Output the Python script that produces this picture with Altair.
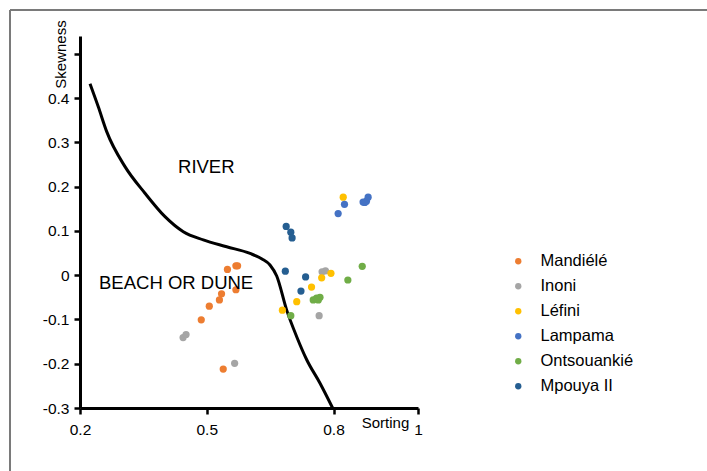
import altair as alt
import pandas as pd

# ---- data ----
sites = ["Mandiélé", "Inoni", "Léfini", "Lampama", "Ontsouankié", "Mpouya II"]
colors = ["#ED7D31", "#A5A5A5", "#FFC000", "#4472C4", "#70AD47", "#255E91"]

mandiele_x = [0.549, 0.569, 0.573, 0.569, 0.535, 0.530, 0.506, 0.487, 0.539]
mandiele_y = [0.013, 0.021, 0.021, -0.033, -0.042, -0.056, -0.070, -0.101, -0.212]

inoni_x = [0.444, 0.451, 0.566, 0.766, 0.773, 0.781]
inoni_y = [-0.141, -0.134, -0.199, -0.0915, 0.0076, 0.0098]

lefini_x = [0.823, 0.794, 0.772, 0.748, 0.713, 0.679]
lefini_y = [0.176, 0.004, -0.006, -0.027, -0.060, -0.079]

lampama_x = [0.826, 0.811, 0.870, 0.878, 0.882, 0.874]
lampama_y = [0.160, 0.139, 0.165, 0.167, 0.176, 0.164]

ontsou_x = [0.868, 0.834, 0.752, 0.760, 0.768, 0.764, 0.699]
ontsou_y = [0.020, -0.011, -0.056, -0.052, -0.050, -0.056, -0.0915]

mpouya_x = [0.688, 0.699, 0.702, 0.686, 0.734, 0.723]
mpouya_y = [0.110, 0.097, 0.084, 0.009, -0.004, -0.036]

curve_x = [0.2237, 0.2433, 0.2632, 0.3065, 0.3538, 0.4012, 0.4445, 0.4918, 0.5472,
           0.6024, 0.6308, 0.6497, 0.6656, 0.6892, 0.7129, 0.7366, 0.7681, 0.798]
curve_y = [0.432, 0.380, 0.324, 0.245, 0.185, 0.132, 0.098, 0.0795, 0.064,
           0.049, 0.0366, 0.023, -0.002, -0.079, -0.139, -0.191, -0.244, -0.3]

zone_labels = ["RIVER", "BEACH OR DUNE"]
zone_x = [0.432, 0.245]
zone_y = [0.231, -0.031]

x_ticks = [0.2, 0.5, 0.8, 1]
y_ticks = [-0.3, -0.2, -0.1, 0, 0.1, 0.2, 0.3, 0.4, 0.5]

# ---- tables ----
series = [
    (sites[0], mandiele_x, mandiele_y),
    (sites[1], inoni_x, inoni_y),
    (sites[2], lefini_x, lefini_y),
    (sites[3], lampama_x, lampama_y),
    (sites[4], ontsou_x, ontsou_y),
    (sites[5], mpouya_x, mpouya_y),
]
rows = []
for name, xs, ys in series:
    for xv, yv in zip(xs, ys):
        rows.append({"site": name, "sorting": xv, "skewness": yv})
pts = pd.DataFrame(rows)
curve = pd.DataFrame({"sorting": curve_x, "skewness": curve_y, "i": range(len(curve_x))})
zones = pd.DataFrame({"label": zone_labels, "sorting": zone_x, "skewness": zone_y})

FONT = "Liberation Sans"
W, H = 338, 372
LEFT, TOP = 80, 36

xscale = alt.Scale(domain=[0.2, 1.0], nice=False, zero=False)
yscale = alt.Scale(domain=[-0.3, 0.54], nice=False, zero=False)

xaxis = alt.Axis(values=x_ticks, labelExpr="'' + datum.value", title="Sorting",
                 titleX=305, titleY=19, titleAlign="center", titleBaseline="alphabetic",
                 titleFontSize=15, titleFontWeight="normal", labelPadding=8, grid=False,
                 labelFlush=False)
yaxis = alt.Axis(values=y_ticks, labelExpr="datum.value > 0.45 ? '' : '' + datum.value",
                 title="Skewness", titleX=-15, titleY=18, titleAngle=270,
                 titleAlign="center", titleBaseline="alphabetic",
                 titleFontSize=15, titleFontWeight="normal", labelPadding=5, grid=False,
                 labelFlush=False)

line = alt.Chart(curve).mark_line(color="black", strokeWidth=3, interpolate="monotone").encode(
    x=alt.X("sorting:Q", scale=xscale, axis=xaxis),
    y=alt.Y("skewness:Q", scale=yscale, axis=yaxis),
    order="i:Q",
)

points = alt.Chart(pts).mark_circle(size=52, opacity=1).encode(
    x=alt.X("sorting:Q", scale=xscale),
    y=alt.Y("skewness:Q", scale=yscale),
    color=alt.Color("site:N", scale=alt.Scale(domain=sites, range=colors),
                    legend=alt.Legend(title=None, orient="none", legendX=430, legendY=217,
                                      symbolType="circle", symbolSize=40,
                                      labelFontSize=16.5, labelFont=FONT, labelColor="#000",
                                      labelOffset=14, rowPadding=8, symbolStrokeWidth=0)),
)

text = alt.Chart(zones).mark_text(align="left", baseline="alphabetic", fontSize=18.5,
                                  font=FONT, color="#000").encode(
    x=alt.X("sorting:Q", scale=xscale),
    y=alt.Y("skewness:Q", scale=yscale),
    text="label:N",
)

frame_top = alt.Chart(pts).mark_rule(color="#7a7a7a", strokeWidth=2).encode(
    x=alt.value(-70), x2=alt.value(707 - LEFT), y=alt.value(-26))
frame_left = alt.Chart(pts).mark_rule(color="#7a7a7a", strokeWidth=2).encode(
    x=alt.value(-70), y=alt.value(-26), y2=alt.value(471 - TOP))

chart = alt.layer(frame_top, frame_left, line, points, text).properties(
    width=W, height=H,
    autosize=alt.AutoSizeParams(type="none"),
    padding={"left": LEFT, "top": TOP, "right": 707 - LEFT - W, "bottom": 471 - TOP - H},
    background="white",
).configure_view(stroke=None).configure_axis(
    domainColor="black", domainWidth=3, tickColor="black", tickWidth=2.5, tickSize=6,
    labelFont=FONT, labelFontSize=15.5, labelColor="#000", titleFont=FONT, titleColor="#000",
).configure_legend(padding=0)

chart.save("out.html", embed_options={"renderer": "svg", "actions": False})
